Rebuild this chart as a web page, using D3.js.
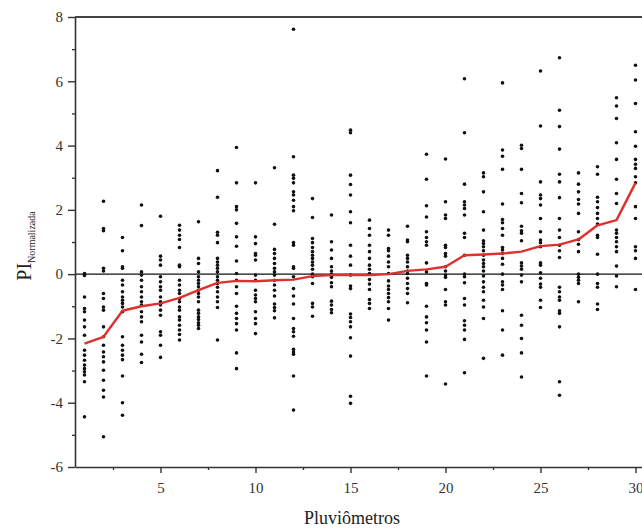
<!DOCTYPE html>
<html>
<head>
<meta charset="utf-8">
<script src="https://cdn.jsdelivr.net/npm/d3@7"></script>
<style>
  body { margin: 0; background: #fff; }
  svg { display: block; }
  .tick text { font-family: "Liberation Serif", "Times New Roman", "DejaVu Serif", serif; font-size: 15px; fill: #333; }
</style>
</head>
<body>
<svg id="chart" width="642" height="531"></svg>
<script>
// pluviometros 1..30, each with its normalised PI values
const pluviometros = d3.range(1, 31);

const valores = [
  [0.02, -0.04, -0.71, -1.07, -1.17, -1.43, -1.64, -1.9, -2.37, -2.52, -2.68, -2.83, -2.94, -3.04, -3.14, -3.35, -4.44],
  [2.27, 1.42, 1.35, 0.18, 0.1, -0.6, -0.76, -1.02, -1.12, -1.64, -1.95, -2.21, -2.42, -2.57, -2.73, -2.99, -3.3, -3.61, -3.82, -5.06],
  [1.14, 0.73, 0.23, 0.18, -0.19, -0.34, -0.55, -0.71, -0.81, -0.91, -1.02, -1.17, -1.95, -2.21, -2.37, -2.52, -2.66, -3.17, -4.0, -4.39],
  [2.15, 1.51, 0.07, -0.03, -0.19, -0.39, -0.55, -0.71, -0.86, -0.96, -1.17, -1.33, -1.48, -1.9, -2.11, -2.49, -2.75],
  [1.8, 0.56, 0.44, 0.28, -0.08, -0.24, -0.39, -0.5, -0.71, -0.86, -0.96, -1.12, -1.28, -1.79, -1.9, -2.21, -2.59],
  [1.52, 1.37, 1.21, 1.08, 0.83, 0.28, 0.23, -0.19, -0.34, -0.5, -0.6, -0.76, -0.86, -1.02, -1.12, -1.33, -1.43, -1.59, -1.74, -1.88, -2.05],
  [1.63, 0.49, 0.33, 0.07, -0.08, -0.19, -0.29, -0.39, -0.5, -0.6, -0.71, -0.86, -1.12, -1.22, -1.33, -1.41, -1.51, -1.59, -1.69],
  [3.22, 2.39, 1.3, 1.21, 0.98, 0.49, 0.38, 0.28, 0.18, 0.07, -0.08, -0.19, -0.29, -0.41, -0.55, -0.71, -0.86, -1.04, -2.05],
  [3.94, 2.84, 2.1, 2.0, 1.58, 1.16, 0.87, 0.41, 0.02, -0.19, -0.39, -0.6, -1.0, -1.22, -1.38, -1.54, -1.74, -2.45, -2.94],
  [2.84, 1.16, 0.95, 0.64, 0.59, 0.44, -0.03, -0.19, -0.5, -0.65, -0.76, -0.86, -1.17, -1.38, -1.54, -1.85],
  [3.31, 1.55, 0.77, 0.64, 0.49, 0.33, 0.18, 0.07, -0.03, -0.19, -0.34, -0.5, -0.68, -0.93, -1.04, -1.14, -1.36],
  [7.62, 3.65, 3.08, 2.98, 2.84, 2.56, 2.46, 2.3, 2.1, 1.97, 0.98, 0.9, 0.23, 0.18, -0.08, -0.45, -0.68, -0.93, -1.38, -1.69, -1.79, -1.93, -2.34, -2.42, -2.49, -3.17, -4.23],
  [2.35, 1.76, 1.11, 0.98, 0.83, 0.7, 0.59, 0.49, 0.38, 0.28, 0.15, 0, -0.08, -0.29, -0.91, -1.02, -1.31],
  [1.84, 1.01, 0.75, 0.49, 0.23, 0.1, 0, -0.1, -0.27, -0.39, -0.84, -0.96, -1.1, -1.2],
  [4.48, 4.4, 3.08, 2.79, 2.46, 1.94, 1.6, 0.9, 0.56, 0.28, -0.03, -0.37, -0.45, -1.24, -1.35, -1.48, -1.64, -1.98, -2.55, -3.8, -4.02],
  [1.68, 1.42, 1.21, 0.9, 0.7, 0.49, 0.28, 0.15, 0.02, -0.17, -0.31, -0.48, -0.79, -0.91, -1.07],
  [1.37, 1.21, 0.8, 0.73, 0.56, 0.38, 0.23, 0.02, -0.21, -0.37, -0.48, -0.6, -0.73, -0.86, -1.07, -1.43],
  [1.49, 1.06, 1.01, 0.59, 0.49, 0.38, 0.23, 0.1, 0.02, -0.13, -0.29, -0.45, -0.6, -0.89],
  [3.73, 2.95, 2.13, 1.78, 1.32, 1.14, 1.01, 0.9, 0.35, 0.07, -0.29, -0.34, -1.0, -1.33, -1.51, -1.74, -2.11, -3.17],
  [3.58, 2.25, 1.84, 1.73, 0.9, 0.83, 0.64, 0.56, 0.23, 0.1, -0.03, -0.1, -0.48, -0.86, -0.96, -3.42],
  [6.08, 4.4, 2.8, 2.25, 2.15, 2.04, 1.84, 1.27, 1.14, 0.59, 0, -0.08, -0.27, -0.76, -0.96, -1.45, -1.59, -1.74, -2.03, -3.07],
  [3.15, 3.03, 2.56, 1.94, 1.37, 1.04, 0.95, 0.85, 0.73, 0.59, 0.44, 0.33, 0.23, 0.1, -0.06, -0.24, -0.41, -0.55, -0.81, -1.02, -1.38, -2.62],
  [5.95, 3.86, 3.67, 3.26, 2.18, 1.7, 1.6, 1.42, 1.21, 0.83, 0.75, 0.64, 0.49, 0.31, 0, -0.24, -0.34, -0.48, -1.14, -1.74, -2.52],
  [4.01, 3.91, 3.26, 2.51, 2.22, 1.49, 1.35, 1.27, 1.04, 0.35, 0.25, 0.15, -0.03, -0.24, -1.28, -1.59, -2.0, -2.45, -3.2],
  [6.32, 4.61, 2.87, 2.46, 2.35, 2.15, 1.73, 1.32, 1.06, 0.98, 0.85, 0.35, 0.28, 0.04, -0.13, -0.31, -0.41, -0.81, -1.04],
  [6.73, 5.1, 4.59, 3.89, 3.11, 2.87, 2.38, 1.73, 1.37, 1.14, 0.9, 0.73, 0.52, -0.41, -0.55, -0.71, -0.81, -1.14, -1.22, -1.64, -3.35, -3.77],
  [3.15, 2.8, 2.56, 2.32, 2.18, 1.89, 1.32, 1.08, 0.93, 0.7, 0, -0.1, -0.19, -0.29, -0.86],
  [3.34, 3.11, 2.39, 2.25, 2.07, 1.89, 1.73, 1.56, 1.21, 1.14, 0.62, 0, -0.29, -0.41, -0.93, -1.1],
  [5.49, 5.23, 4.84, 4.09, 3.57, 2.95, 2.51, 2.2, 1.37, 1.27, 1.14, 1.01, 0.85, 0.7, 0.25, -0.06, -0.39],
  [6.5, 6.04, 5.31, 4.43, 3.98, 3.57, 3.42, 3.29, 3.03, 2.84, 2.1, 1.73, 0.85, 0.73, 0.49, -0.48]
];

// red curve
const mediana = [-2.16, -1.95, -1.14, -1.0, -0.91, -0.74, -0.5, -0.27, -0.21, -0.22,
  -0.19, -0.17, -0.06, -0.03, -0.03, -0.03, 0, 0.1, 0.15, 0.23,
  0.59, 0.61, 0.64, 0.7, 0.87, 0.92, 1.08, 1.52, 1.68, 2.84];

const xTicks = [5, 10, 15, 20, 25, 30];
const yTicks = [-6, -4, -2, 0, 2, 4, 6, 8];

const serif = '"Liberation Serif", "Times New Roman", "DejaVu Serif", serif';
const svg = d3.select('#chart');
const m = { left: 75, right: 645, top: 17, bottom: 467 };

const x = d3.scaleLinear().domain([0.5, 30.5]).range([m.left, m.right]);
const y = d3.scaleLinear().domain([-6, 8]).range([m.bottom, m.top]);

const pts = [];
valores.forEach((vals, i) => {
  vals.forEach(v => pts.push({ p: pluviometros[i], v: v }));
});

// zero line
svg.append('line')
  .attr('x1', m.left).attr('x2', m.right)
  .attr('y1', y(0)).attr('y2', y(0))
  .attr('stroke', '#111').attr('stroke-width', 1.2);

svg.append('g').selectAll('circle')
  .data(pts)
  .enter()
  .append('circle')
  .attr('cx', d => x(d.p))
  .attr('cy', d => y(d.v))
  .attr('r', 1.8)
  .attr('fill', '#111');

const line = d3.line()
  .x((d, i) => x(pluviometros[i]))
  .y(d => y(d));

svg.append('path')
  .datum(mediana)
  .attr('d', line)
  .attr('fill', 'none')
  .attr('stroke', '#e0302e')
  .attr('stroke-width', 2.4)
  .attr('stroke-linejoin', 'round');

// minor ticks
svg.append('g')
  .attr('transform', `translate(0,${m.bottom})`)
  .call(d3.axisBottom(x).tickValues(d3.range(2.5, 31, 5)).tickSize(3).tickFormat(''))
  .call(g => g.select('.domain').remove())
  .selectAll('line').attr('stroke', '#333').attr('stroke-width', 1.3);

svg.append('g')
  .attr('transform', `translate(${m.left},0)`)
  .call(d3.axisLeft(y).tickValues(d3.range(-5, 8, 2)).tickSize(3).tickFormat(''))
  .call(g => g.select('.domain').remove())
  .selectAll('line').attr('stroke', '#333').attr('stroke-width', 1.3);

// main axes (plain hyphen for negatives, like the original)
const xAxis = svg.append('g')
  .attr('transform', `translate(0,${m.bottom})`)
  .call(d3.axisBottom(x).tickValues(xTicks).tickFormat(d => String(d))
    .tickSize(6).tickSizeOuter(0).tickPadding(9));

const yAxis = svg.append('g')
  .attr('transform', `translate(${m.left},0)`)
  .call(d3.axisLeft(y).tickValues(yTicks).tickFormat(d => String(d))
    .tickSize(7).tickSizeOuter(0).tickPadding(5));

[xAxis, yAxis].forEach(a => {
  a.attr('font-family', serif);
  a.select('.domain').attr('stroke', '#333').attr('stroke-width', 1.6);
  a.selectAll('.tick line').attr('stroke', '#333').attr('stroke-width', 1.4);
});

// top frame
svg.append('line')
  .attr('x1', m.left).attr('x2', m.right)
  .attr('y1', m.top).attr('y2', m.top)
  .attr('stroke', '#444').attr('stroke-width', 1.8);

// axis titles
svg.append('text')
  .attr('x', 352)
  .attr('y', 524)
  .attr('text-anchor', 'middle')
  .style('font-family', serif)
  .style('font-size', '18px')
  .attr('fill', '#222')
  .text('Pluviômetros');

const yl = svg.append('text')
  .attr('transform', 'translate(31,246) rotate(-90)')
  .attr('text-anchor', 'middle')
  .style('font-family', serif)
  .attr('fill', '#222');
yl.append('tspan').style('font-size', '20px').text('PI');
yl.append('tspan').style('font-size', '10px').attr('dy', 4).text('Normalizada');
</script>
</body>
</html>
